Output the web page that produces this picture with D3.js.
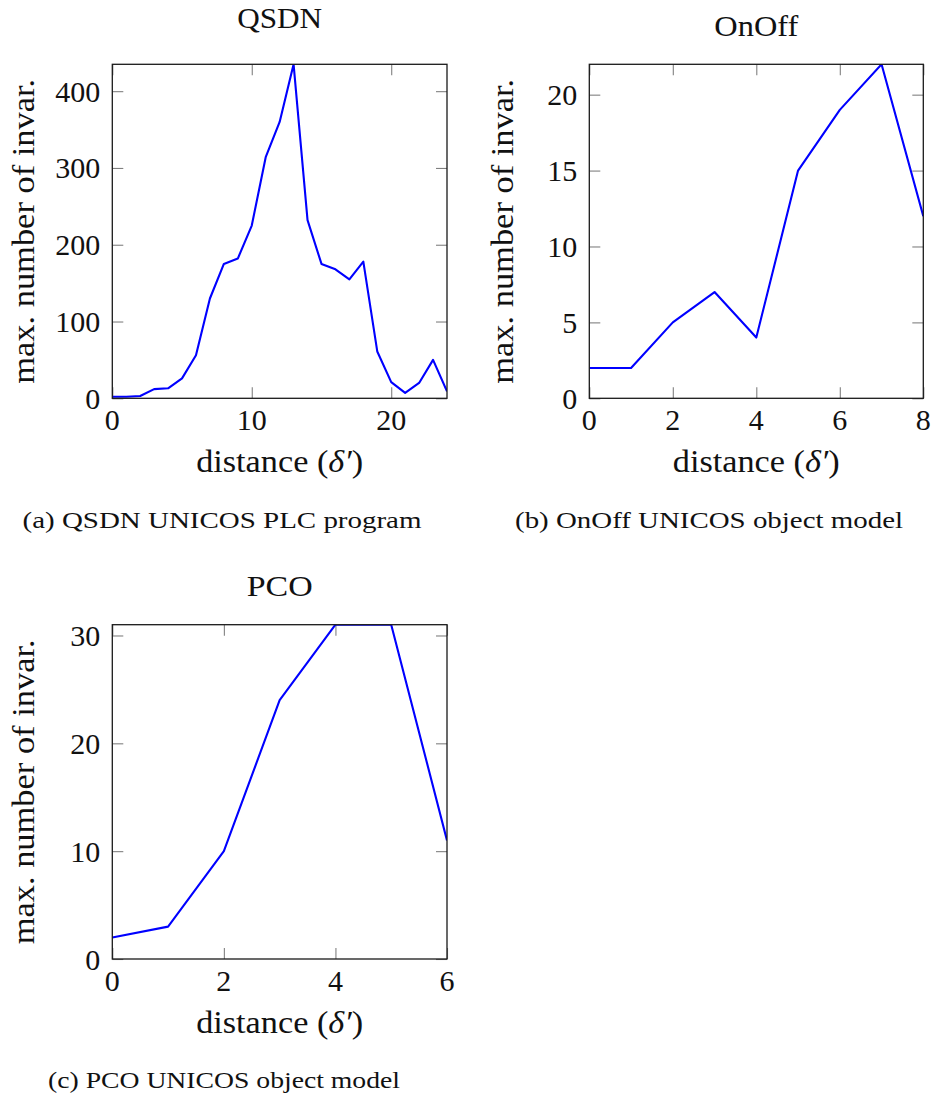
<!DOCTYPE html>
<html>
<head>
<meta charset="utf-8">
<script src="https://cdn.jsdelivr.net/npm/d3@7"></script>
<style>
  html, body { margin: 0; padding: 0; background: #fff; }
  svg { display: block; }
</style>
</head>
<body>
<svg id="fig" width="934" height="1099" font-family="'Liberation Serif', Tinos, 'Times New Roman', Times, 'Nimbus Roman', FreeSerif, serif"></svg>
<script>
// Maximum number of invariants per distance δ′, one series per model
const qsdnDistance = [0, 1, 2, 3, 4, 5, 6, 7, 8, 9, 10, 11, 12, 13, 14, 15, 16, 17, 18, 19, 20, 21, 22, 23, 24];
const qsdnInvariants = [2, 2, 3, 12, 13, 26, 56, 130, 175, 182, 225, 314, 360, 435, 232, 175, 168, 155, 178, 61, 21, 7, 20, 50, 9];

const onOffDistance = [0, 1, 2, 3, 4, 5, 6, 7, 8];
const onOffInvariants = [2, 2, 5, 7, 4, 15, 19, 22, 12];

const pcoDistance = [0, 1, 2, 3, 4, 5, 6];
const pcoInvariants = [2, 3, 10, 24, 31, 31, 11];

const qsdnXTicks = [0, 10, 20];
const qsdnYTicks = [0, 100, 200, 300, 400];
const onOffXTicks = [0, 2, 4, 6, 8];
const onOffYTicks = [0, 5, 10, 15, 20];
const pcoXTicks = [0, 2, 4, 6];
const pcoYTicks = [0, 10, 20, 30];

const titles = ["QSDN", "OnOff", "PCO"];
const captions = ["(a) QSDN UNICOS PLC program", "(b) OnOff UNICOS object model", "(c) PCO UNICOS object model"];
const yAxisLabel = "max. number of invar.";

const svg = d3.select("#fig");
const ink = "#111";

function drawPanel(p) {
  const x = d3.scaleLinear().domain(d3.extent(p.xs)).range([p.left, p.right]);
  const y = d3.scaleLinear().domain([0, d3.max(p.ys)]).range([p.bottom, p.top]);
  const g = svg.append("g");
  const tickLen = 11;

  // tick marks on all four sides, pointing inward
  const tickStyle = s => s.attr("stroke", "#808080").attr("stroke-width", 1.1);
  const ticks = (axis, tx, ty) => g.append("g").attr("transform", `translate(${tx},${ty})`)
    .call(axis.tickSize(-tickLen).tickFormat(""))
    .call(a => a.select(".domain").remove())
    .call(a => a.selectAll("line").call(tickStyle));
  ticks(d3.axisBottom(x).tickValues(p.xTicks), 0, p.bottom);
  ticks(d3.axisTop(x).tickValues(p.xTicks), 0, p.top);
  ticks(d3.axisLeft(y).tickValues(p.yTicks), p.left, 0);
  ticks(d3.axisRight(y).tickValues(p.yTicks), p.right, 0);

  // tick labels
  g.selectAll(".xl").data(p.xTicks).join("text")
    .attr("x", d => x(d)).attr("y", p.bottom + 32).attr("fill", ink)
    .attr("text-anchor", "middle").attr("font-size", 30).text(d => d);
  g.selectAll(".yl").data(p.yTicks).join("text")
    .attr("x", p.left - 12).attr("y", d => y(d) + 10.5).attr("fill", ink)
    .attr("text-anchor", "end").attr("font-size", 30).text(d => d);

  // data line, clipped to the plot box
  const clipId = "clip-" + p.id;
  svg.append("clipPath").attr("id", clipId).append("rect")
    .attr("x", p.left).attr("y", p.top)
    .attr("width", p.right - p.left).attr("height", p.bottom - p.top);
  const line = d3.line().x((d, i) => x(p.xs[i])).y(d => y(d));
  g.append("path").datum(p.ys)
    .attr("clip-path", `url(#${clipId})`)
    .attr("d", line).attr("fill", "none")
    .attr("stroke", "#0000ff").attr("stroke-width", 2.1).attr("stroke-linejoin", "round");

  // frame
  g.append("rect").attr("x", p.left).attr("y", p.top)
    .attr("width", p.right - p.left).attr("height", p.bottom - p.top)
    .attr("fill", "none").attr("stroke", "#1a1a1a").attr("stroke-width", 1.3);

  const cx = (p.left + p.right) / 2;
  const cy = (p.top + p.bottom) / 2;

  // title
  g.append("text").attr("x", cx).attr("y", p.titleY).attr("fill", ink)
    .attr("text-anchor", "middle").attr("font-size", 29)
    .attr("textLength", p.titleLen).attr("lengthAdjust", "spacingAndGlyphs")
    .text(p.title);

  // x-axis label
  const xl = g.append("text").attr("x", cx).attr("y", p.bottom + 73.5).attr("fill", ink)
    .attr("text-anchor", "middle").attr("font-size", 31)
    .attr("textLength", 167).attr("lengthAdjust", "spacingAndGlyphs");
  xl.append("tspan").text("distance (");
  xl.append("tspan").attr("font-style", "italic").text("δ′");
  xl.append("tspan").text(")");

  // y-axis label
  g.append("text").attr("fill", ink)
    .attr("transform", `translate(${p.yLabelX},${cy}) rotate(-90)`)
    .attr("text-anchor", "middle").attr("font-size", 31)
    .attr("textLength", 305).attr("lengthAdjust", "spacingAndGlyphs")
    .text(yAxisLabel);

  // sub-figure caption
  g.append("text").attr("x", p.capX).attr("y", p.capY).attr("fill", ink)
    .attr("font-size", 24)
    .attr("textLength", p.capLen).attr("lengthAdjust", "spacingAndGlyphs")
    .text(p.caption);
}

drawPanel({
  id: "qsdn", xs: qsdnDistance, ys: qsdnInvariants,
  xTicks: qsdnXTicks, yTicks: qsdnYTicks,
  left: 112.3, right: 447, top: 64.3, bottom: 398.3,
  title: titles[0], titleY: 28, titleLen: 85, yLabelX: 33.5,
  caption: captions[0], capX: 22.5, capY: 528, capLen: 399
});

drawPanel({
  id: "onoff", xs: onOffDistance, ys: onOffInvariants,
  xTicks: onOffXTicks, yTicks: onOffYTicks,
  left: 589.3, right: 923.3, top: 64.3, bottom: 398.3,
  title: titles[1], titleY: 36, titleLen: 84, yLabelX: 513,
  caption: captions[1], capX: 515, capY: 528, capLen: 388
});

drawPanel({
  id: "pco", xs: pcoDistance, ys: pcoInvariants,
  xTicks: pcoXTicks, yTicks: pcoYTicks,
  left: 112.3, right: 447, top: 624.7, bottom: 959,
  title: titles[2], titleY: 596, titleLen: 66, yLabelX: 33.5,
  caption: captions[2], capX: 48, capY: 1088, capLen: 352
});
</script>
</body>
</html>
